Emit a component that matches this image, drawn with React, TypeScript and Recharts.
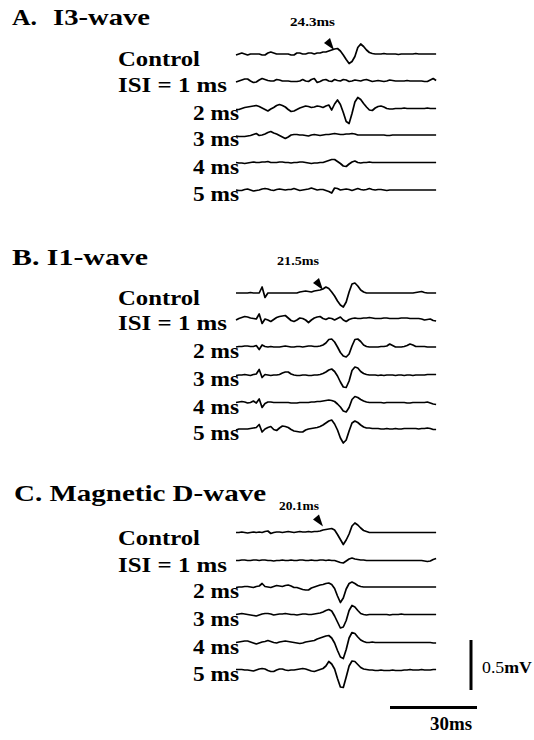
import React from 'react';
import { ComposedChart, Line, XAxis, YAxis, ReferenceDot } from 'recharts';

// ---- data: potentials in µV, sampled every 1 ms from sweep start ----
const SAMPLE_MS = 1;

// A. I3-wave
const aControl = [-10,0,10,0,-10,0,0,0,0,-10, -10,10,20,10,0,0,0,0,0,-10, -10,10,10,0,0,10,10,0,10,10, 20,20,30,40,50,55,30,-10,-55,-95, -75,-25,65,100,75,40,15,5,0,0, 0,5,0,0,0,0,-5,0,0,0, 0,0,5,0,0,0,0,0,0,0];
const aIsi1 = [-10,0,10,20,20,0,-15,-10,10,25, 15,5,0,0,15,10,0,0,0,-5, -5,-5,0,15,0,-5,15,25,-15,-5, 10,15,0,-5,15,5,0,15,10,-5, 0,10,5,0,10,15,5,-5,0,5, 0,-5,0,10,5,0,0,0,0,5, 0,0,0,0,0,-5,-5,10,25,5];
const aIsi2 = [-10,-10,0,10,15,20,25,30,20,5, -10,-25,-5,10,30,40,30,15,-10,-30, -25,-10,5,15,25,20,10,15,25,20, 10,25,35,-15,45,85,40,-40,-130,-150, -50,65,110,90,50,15,-15,-20,5,20, 25,15,0,-5,-5,0,0,0,5,0, 0,0,0,0,0,0,5,0,0,0];
const aIsi3 = [-10,-15,-15,-15,-10,-5,5,15,-5,0, 10,25,35,20,10,-5,-20,-35,-20,0, 5,5,0,0,-5,-10,0,5,0,-5, 0,5,5,10,15,10,5,5,10,10, 15,10,0,0,0,0,0,0,0,0, 0,0,-5,-5,0,0,0,0,0,0, 0,0,0,0,0,0,0,0,0,0];
const aIsi4 = [0,-5,-5,-10,-5,0,5,0,0,5, 5,10,0,0,0,5,5,0,0,-5, 0,0,5,5,0,-5,-10,-5,-5,0, 0,10,20,30,30,10,-10,-35,-40,-15, 5,15,0,-5,0,0,5,0,0,0, 0,0,0,0,0,0,0,0,0,0, 0,0,0,0,0,0,0,0,0,0];
const aIsi5 = [0,-5,-5,5,10,0,-10,-5,0,10, 15,10,0,-5,5,10,5,0,5,5, 15,5,-5,0,5,10,20,10,0,5, 5,-5,-15,-30,20,15,0,5,10,5, -5,5,15,5,0,5,15,5,0,5, 5,0,-5,0,0,0,0,0,0,0, 0,0,0,0,0,0,0,0,0,0];

// B. I1-wave
const bControl = [0,0,0,0,0,5,0,0,0,60, -45,0,0,0,0,0,0,0,0,0, 0,0,10,15,20,15,10,20,25,30, 40,60,45,10,-30,-80,-120,-140,-90,10, 90,100,70,30,10,0,0,0,0,0, 0,0,0,0,0,0,0,0,0,0, 0,0,5,10,15,5,0,0,0,0];
const bIsi1 = [-10,5,15,25,20,10,5,0,50,-45, 0,-10,-25,-5,15,25,30,35,10,-15, -25,-10,10,5,-10,-35,-10,10,20,25, 5,-5,10,5,-10,5,20,-10,-25,-5, 5,10,5,5,10,10,15,10,5,5, 5,10,10,5,5,5,5,10,10,10, 5,5,5,5,0,-10,-5,0,-15,-20];
const bIsi2 = [0,5,5,10,10,5,5,15,-25,20, 5,0,5,0,0,0,5,10,5,0, 0,5,5,0,5,10,10,5,5,10, 20,40,75,80,50,0,-55,-90,-100,-70, 10,75,80,55,20,5,0,0,0,0, 5,5,10,30,15,0,0,0,5,15, 30,20,5,5,5,5,0,0,0,0];
const bIsi3 = [-5,0,0,5,0,-5,5,10,55,-25, 5,0,-5,0,0,5,20,30,30,10, 0,-5,-5,0,0,-5,-5,0,0,5, 15,30,50,60,35,-10,-70,-120,-125,-60, 45,80,70,35,15,5,0,0,0,-5, 0,-5,0,0,0,-5,0,0,-5,0, 0,-5,0,0,0,0,5,5,5,5];
const bIsi4 = [0,5,10,5,-5,0,15,-5,35,-50, -10,5,5,0,0,0,0,0,0,-5, -5,-5,0,0,0,0,5,5,10,10, 15,20,25,20,10,-15,-45,-85,-95,-50, 30,60,50,30,15,5,0,0,0,0, 0,-5,0,0,0,0,0,0,0,-5, -5,0,0,0,0,0,5,-5,-15,-20];
const bIsi5 = [-10,0,0,0,0,5,10,15,45,-30, 0,15,25,-5,-15,10,30,25,15,-5, -20,-25,-30,-30,-10,0,5,10,15,25, 40,60,80,90,50,-10,-90,-140,-110,-20, 60,80,65,40,20,10,10,5,5,5, 0,0,5,0,0,5,0,0,5,5, 5,5,5,0,5,5,10,5,-5,-5];

// C. Magnetic D-wave
const cControl = [0,0,5,0,-5,0,5,0,5,0, 10,15,-10,0,5,5,0,5,10,5, 0,5,10,5,5,10,5,10,10,15, 25,30,35,40,25,-20,-70,-120,-75,-15, 65,95,75,45,20,10,0,0,0,0, 0,0,0,0,0,0,0,0,0,0, 0,0,0,0,0,0,0,0,0,0];
const cIsi1 = [0,0,5,5,0,0,5,5,0,5, 5,0,0,-5,0,0,5,0,0,5, 0,0,5,5,0,0,5,0,0,5, 5,0,5,0,0,-10,-20,-25,-5,15, 25,15,10,5,5,0,0,0,0,0, 0,0,0,0,0,0,0,0,0,0, 0,0,0,0,0,-5,-10,-5,10,20];
const cIsi2 = [-5,0,0,5,5,0,-5,5,10,35, 5,0,-5,5,15,10,5,15,20,10, -5,-5,-15,-25,-30,-30,-10,0,10,20, 25,35,40,25,-15,-90,-155,-110,-20,35, 50,35,15,5,0,0,0,0,0,0, 0,0,0,0,0,0,0,0,0,0, 0,0,0,0,0,0,0,0,0,0];
const cIsi3 = [0,5,10,5,0,-5,-10,-15,-5,5, 10,10,5,-5,0,5,5,10,5,0, 0,-5,0,5,5,0,0,5,10,15, 25,40,50,35,-15,-75,-135,-125,-60,40, 90,75,40,10,0,-5,0,0,0,0, 0,0,0,-5,0,0,0,5,0,0, 0,0,0,0,0,0,0,0,0,0];
const cIsi4 = [0,5,10,15,15,5,-5,-15,-5,5, 10,20,10,0,-5,5,10,15,10,5, 0,-5,-10,-5,5,10,15,20,35,45, 55,65,70,45,-5,-80,-145,-160,-70,45, 100,90,55,25,10,0,0,5,0,0, 0,0,0,0,0,0,0,0,0,0, 0,0,0,0,0,0,0,0,-5,-5];
const cIsi5 = [0,0,0,-5,-5,-10,-15,-5,5,10, 5,-10,-20,-20,-5,5,5,-5,-10,-5, -5,0,5,10,5,-5,-15,-20,-10,0, 10,35,80,55,5,-90,-175,-180,-75,35, 85,80,50,20,5,0,-5,-5,-10,-10, -5,-10,-10,-10,-5,-10,-10,-10,-5,-5, 0,-5,-5,-5,0,-5,-5,-5,0,0];

// labels
const panelTitles = ['A.', 'B. I1-wave', 'C. Magnetic D-wave'];
const rowLabels = ['Control', 'ISI = 1 ms', '2 ms', '3 ms', '4 ms', '5 ms'];
const latencyLabels = ['24.3ms', '21.5ms', '20.1ms'];
const latencyMs = [33.8, 30.0, 30.0]; // arrow tip time within sweep
const SCALE_MS = 30;
const SCALE_UV = 500;

// ---- layout ----
const W = 534;
const H = 740;
const PX_PER_MS = 2.9;
const UV_PER_PX = 10;
const TRACE_X0 = 236;
const FONT = "'Liberation Serif', 'Times New Roman', serif";

const panels = [
  { traces: [aControl, aIsi1, aIsi2, aIsi3, aIsi4, aIsi5], bases: [54, 81, 108.5, 135, 162.5, 190], arrowDy: 4 },
  { traces: [bControl, bIsi1, bIsi2, bIsi3, bIsi4, bIsi5], bases: [293, 319, 347, 375, 402.5, 429], arrowDy: 3 },
  { traces: [cControl, cIsi1, cIsi2, cIsi3, cIsi4, cIsi5], bases: [532.5, 560.5, 587, 614.5, 642.5, 669.5], arrowDy: 6 },
];

const toSeries = (values: number[], basePx: number) =>
  values.map((v, i) => ({ t: i * SAMPLE_MS, y: v - basePx * UV_PER_PX }));

const Arrow = (props: any) => {
  const { cx, cy } = props;
  return <polygon points={`${cx},${cy} ${cx - 10},${cy - 7} ${cx - 4},${cy - 12}`} fill="#000" />;
};

const scaleX0 = (390 - TRACE_X0) / PX_PER_MS;
const scaleBarY = -707.5 * UV_PER_PX;
const scaleVX = (471 - TRACE_X0) / PX_PER_MS;
const scaleVBottom = -690 * UV_PER_PX;

const labelGeom = [
  { x: 118, w: 82, dy: 12 },
  { x: 118, w: 109, dy: 11 },
  { x: 193, w: 46, dy: 11 },
  { x: 193, w: 46, dy: 11 },
  { x: 193, w: 46, dy: 11 },
  { x: 193, w: 46, dy: 11 },
];

export default function App() {
  return (
    <div style={{ position: 'absolute', left: 0, top: 0, width: W, height: H, background: '#fff' }}>
      <div style={{ position: 'absolute', left: 0, top: 0 }}>
        <ComposedChart width={W} height={H} margin={{ top: 0, right: 0, bottom: 0, left: 0 }}>
          <XAxis
            type="number"
            dataKey="t"
            domain={[-TRACE_X0 / PX_PER_MS, (W - TRACE_X0) / PX_PER_MS]}
            allowDataOverflow
            hide
          />
          <YAxis type="number" domain={[-H * UV_PER_PX, 0]} allowDataOverflow hide />
          {panels.map((p, pi) =>
            p.traces.map((vals, ri) => (
              <Line
                key={`p${pi}r${ri}`}
                data={toSeries(vals, p.bases[ri])}
                dataKey="y"
                type="linear"
                stroke="#000"
                strokeWidth={1.7}
                strokeLinejoin="round"
                dot={false}
                activeDot={false}
                isAnimationActive={false}
              />
            ))
          )}
          <Line
            data={[{ t: scaleX0, y: scaleBarY }, { t: scaleX0 + SCALE_MS, y: scaleBarY }]}
            dataKey="y"
            stroke="#000"
            strokeWidth={3}
            dot={false}
            activeDot={false}
            isAnimationActive={false}
          />
          <Line
            data={[{ t: scaleVX, y: scaleVBottom }, { t: scaleVX, y: scaleVBottom + SCALE_UV }]}
            dataKey="y"
            stroke="#000"
            strokeWidth={3}
            dot={false}
            activeDot={false}
            isAnimationActive={false}
          />
          {panels.map((p, pi) => (
            <ReferenceDot
              key={`arr${pi}`}
              x={latencyMs[pi]}
              y={-(p.bases[0] - p.arrowDy) * UV_PER_PX}
              r={0}
              shape={Arrow}
            />
          ))}
        </ComposedChart>
      </div>
      <svg
        width={W}
        height={H}
        style={{ position: 'absolute', left: 0, top: 0, pointerEvents: 'none' }}
        fontFamily={FONT}
        fill="#000"
      >
        {/* titles */}
        <text x={12} y={25} fontSize={24} fontWeight="bold" textLength={25} lengthAdjust="spacingAndGlyphs">{panelTitles[0]}</text>
        <text x={53} y={25} fontSize={24} fontWeight="bold" textLength={97} lengthAdjust="spacingAndGlyphs">I3-wave</text>
        <text x={12} y={265} fontSize={24} fontWeight="bold" textLength={136} lengthAdjust="spacingAndGlyphs">{panelTitles[1]}</text>
        <text x={14} y={501} fontSize={24} fontWeight="bold" textLength={252} lengthAdjust="spacingAndGlyphs">{panelTitles[2]}</text>
        {/* latency labels */}
        <text x={290} y={26} fontSize={12} fontWeight="bold" textLength={45} lengthAdjust="spacingAndGlyphs">{latencyLabels[0]}</text>
        <text x={277} y={265} fontSize={12} fontWeight="bold" textLength={42} lengthAdjust="spacingAndGlyphs">{latencyLabels[1]}</text>
        <text x={279} y={510} fontSize={12} fontWeight="bold" textLength={40} lengthAdjust="spacingAndGlyphs">{latencyLabels[2]}</text>
        {/* row labels */}
        {panels.map((p, pi) =>
          rowLabels.map((lab, ri) => (
            <text
              key={`l${pi}${ri}`}
              x={labelGeom[ri].x}
              y={p.bases[ri] + labelGeom[ri].dy}
              fontSize={20}
              fontWeight="bold"
              textLength={labelGeom[ri].w}
              lengthAdjust="spacingAndGlyphs"
            >
              {lab}
            </text>
          ))
        )}
        {/* scale bar labels */}
        <text x={482} y={673} fontSize={17} textLength={50} lengthAdjust="spacingAndGlyphs">
          <tspan>0.5</tspan>
          <tspan fontWeight="bold">mV</tspan>
        </text>
        <text x={430} y={730} fontSize={18} fontWeight="bold" textLength={42} lengthAdjust="spacingAndGlyphs">30ms</text>
      </svg>
    </div>
  );
}
